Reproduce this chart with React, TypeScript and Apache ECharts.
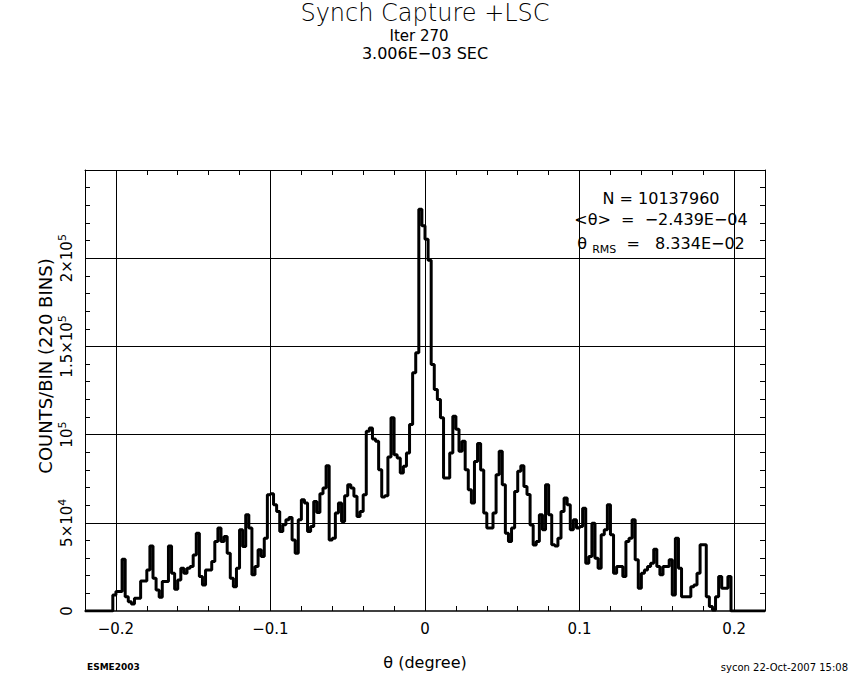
import React, { useEffect, useRef } from 'react';
import * as echarts from 'echarts';

const titleText = 'Synch Capture +LSC';
const iterText = 'Iter 270';
const timeText = '3.006E−03 SEC';
const statN = 'N = 10137960';
const statMean = '<θ>  =  −2.439E−04';
const statRmsValue = '  =   8.334E−02';
const xTitle = 'θ (degree)';
const yTitle = 'COUNTS/BIN (220 BINS)';
const footLeft = 'ESME2003';
const footRight = 'sycon 22-Oct-2007 15:08';

const xMin = -0.22;
const xMax = 0.22;
const binWidth = 0.002;
const yMax = 250000;

const xGrid = [-0.2, -0.1, 0, 0.1, 0.2];
const xTickLabels = ['−0.2', '−0.1', '0', '0.1', '0.2'];
const yGrid = [50000, 100000, 150000, 200000];
const yTickValues = [0, 50000, 100000, 150000, 200000];
const yTickLabels = ['{m|0}', '{m|5×10}{s|4}', '{m|10}{s|5}', '{m|1.5×10}{s|5}', '{m|2×10}{s|5}'];

// counts per bin (220 bins from -0.22 to 0.22)
const counts = [
  0, 0, 0, 0, 0, 0, 0, 0, 0, 9100,
  11000, 11000, 29400, 8100, 5300, 4000, 7200, 7200, 17000, 17000,
  23300, 36900, 18600, 11900, 7800, 16700, 16700, 36900, 21400, 12300,
  17600, 24200, 21400, 24200, 25200, 31800, 44100, 19500, 14800, 23300,
  23300, 28000, 39400, 47000, 39400, 42200, 32800, 18600, 13800, 24200,
  46000, 36500, 54500, 47000, 20500, 25200, 34700, 30900, 41300, 65900,
  66500, 60200, 56400, 45100, 48900, 51700, 53000, 40300, 32800, 51700,
  63100, 61200, 45100, 47900, 62100, 55900, 66500, 69700, 82400, 40300,
  41300, 55500, 61200, 50700, 65300, 71600, 69700, 65000, 53600, 56400,
  65900, 101900, 103800, 97500, 96200, 80100, 64600, 65300, 87300, 109500,
  88600, 86800, 78200, 82000, 89600, 105700, 135000, 146400, 227800, 218400,
  210800, 198900, 139800, 125600, 119900, 109500, 75400, 75400, 89600, 110400,
  103000, 90500, 96200, 80100, 68800, 61200, 84800, 95000, 80000, 55500,
  47000, 47000, 55500, 77300, 90500, 71600, 44100, 39400, 47000, 67800,
  79200, 82400, 70600, 66000, 48700, 37400, 39400, 54500, 46000, 71600,
  54500, 37500, 36900, 41300, 56400, 64000, 60200, 46000, 51700, 47000,
  47900, 58300, 27100, 30900, 49800, 29900, 24200, 43200, 46000, 60200,
  43200, 21400, 25200, 25200, 19500, 39400, 41300, 51700, 29000, 12900,
  21400, 23300, 25200, 27100, 35000, 25200, 20500, 25200, 25200, 29000,
  9100, 41300, 24200, 8100, 8100, 8100, 13800, 14800, 21400, 37500,
  37500, 8100, 2500, 600, 8100, 19500, 12900, 12900, 19500, 0,
  0, 0, 0, 0, 0, 0, 0, 0, 0, 0,
];

const FONT = '"DejaVu Sans", "Liberation Sans", sans-serif';

export default function App() {
  const ref = useRef<HTMLDivElement>(null);

  useEffect(() => {
    if (!ref.current) return;
    const chart = echarts.init(ref.current, null, { renderer: 'svg' });

    const points: number[][] = counts.map((v, i) => [xMin + i * binWidth, v]);
    points.push([xMax, 0]);

    const xFmt = (v: number) => {
      const idx = xGrid.findIndex((g) => Math.abs(g - v) < 1e-7);
      return idx >= 0 ? xTickLabels[idx] : '';
    };
    const yFmt = (v: number) => {
      const idx = yTickValues.findIndex((g) => Math.abs(g - v) < 1e-3);
      return idx >= 0 ? yTickLabels[idx] : '';
    };

    const axisLine = { show: true, onZero: false, lineStyle: { color: '#000', width: 1 } };
    const tick = { show: true, inside: true, length: 5, lineStyle: { color: '#000', width: 1 } };

    const txt = (x: number, y: number, text: string, size: number, extra: any = {}) => ({
      type: 'text', x, y,
      style: {
        text, fill: '#000', font: `${extra.weight || 'normal'} ${size}px ${FONT}`,
        textAlign: extra.align || 'center', textVerticalAlign: 'middle',
        lineHeight: extra.lineHeight || Math.round(size * 1.1),
      },
      rotation: extra.rotation || 0,
    });

    chart.setOption({
      animation: false,
      backgroundColor: '#fff',
      grid: { left: 85, right: 85, top: 170, bottom: 69, containLabel: false },
      xAxis: [
        {
          type: 'value', min: xMin, max: xMax, interval: 0.02, position: 'bottom',
          axisLine: { ...axisLine, lineStyle: { color: '#000', width: 1.5 } },
          axisTick: tick,
          axisLabel: {
            show: true, formatter: xFmt, margin: 10, color: '#000',
            fontFamily: FONT, fontSize: 15,
          },
          splitLine: { show: false },
        },
        {
          type: 'value', min: xMin, max: xMax, interval: 0.02, position: 'top',
          axisLine, axisTick: tick, axisLabel: { show: false }, splitLine: { show: false },
        },
      ],
      yAxis: [
        {
          type: 'value', min: 0, max: yMax, interval: 10000, position: 'left',
          axisLine, axisTick: tick,
          axisLabel: {
            show: true, formatter: yFmt, rotate: 90, margin: 8, color: '#000',
            fontFamily: FONT,
            rich: {
              m: { fontFamily: FONT, fontSize: 15, lineHeight: 20, color: '#000' },
              s: { fontFamily: FONT, fontSize: 11, lineHeight: 11, verticalAlign: 'top', color: '#000' },
            },
          },
          splitLine: { show: false },
        },
        {
          type: 'value', min: 0, max: yMax, interval: 10000, position: 'right',
          axisLine, axisTick: tick, axisLabel: { show: false }, splitLine: { show: false },
        },
      ],
      series: [
        {
          type: 'line',
          xAxisIndex: 0,
          yAxisIndex: 0,
          step: 'end',
          showSymbol: false,
          symbol: 'none',
          silent: true,
          lineStyle: { color: '#000', width: 3 },
          data: points,
          markLine: {
            silent: true,
            symbol: ['none', 'none'],
            label: { show: false },
            lineStyle: { color: '#000', width: 1, type: 'solid' },
            emphasis: { disabled: true },
            data: [
              ...xGrid.map((v) => ({ xAxis: v })),
              ...yGrid.map((v) => ({ yAxis: v })),
            ],
          },
        },
      ],
      graphic: [
        txt(425, 13, titleText, 24, { weight: 200, lineHeight: 24 }),
        txt(419, 36, iterText, 15, { lineHeight: 15 }),
        txt(425, 53, timeText, 16, { lineHeight: 15 }),
        txt(661, 198, statN, 16, { lineHeight: 18 }),
        txt(661, 219, statMean, 16, { lineHeight: 18 }),
        {
          type: 'text', x: 661, y: 243,
          style: {
            text: `{t|θ }{s|RMS}{t|${statRmsValue}}`,
            fill: '#000', textAlign: 'center', textVerticalAlign: 'middle',
            rich: {
              t: { fontFamily: FONT, fontSize: 16, lineHeight: 24, fill: '#000', color: '#000' },
              s: { fontFamily: FONT, fontSize: 11, lineHeight: 11, verticalAlign: 'bottom', fill: '#000', color: '#000' },
            },
          },
        },
        txt(425, 662, xTitle, 16),
        txt(45, 366, yTitle, 18, { rotation: Math.PI / 2 }),
        txt(87, 667, footLeft, 9, { weight: 'bold', align: 'left' }),
        txt(848, 667, footRight, 10, { align: 'right' }),
      ],
    });

    return () => chart.dispose();
  }, []);

  return (
    <div
      ref={ref}
      style={{ position: 'fixed', left: 0, top: 0, width: 850, height: 680, background: '#fff' }}
    />
  );
}
